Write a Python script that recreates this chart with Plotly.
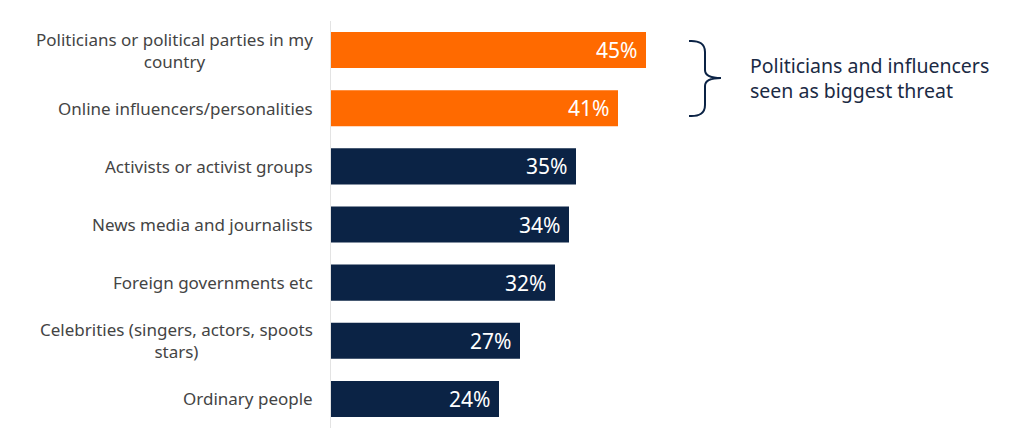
import plotly.graph_objects as go

categories = [
    "Politicians or political parties in my<br>country",
    "Online influencers/personalities",
    "Activists or activist groups",
    "News media and journalists",
    "Foreign governments etc",
    "Celebrities (singers, actors, spoots<br>stars)",
    "Ordinary people",
]
values = [45, 41, 35, 34, 32, 27, 24]
highlight = [True, True, False, False, False, False, False]

ORANGE = "#FF6A00"
NAVY = "#0B2345"
FONT = "Noto Sans"

# page body has an 8px margin, so the figure is drawn 8px smaller/shifted
OFF = 8
W, H = 1024 - OFF, 438 - OFF
L, R, T, B = 331 - OFF, 0, 21 - OFF, 10

colors = [ORANGE if h else NAVY for h in highlight]

fig = go.Figure(go.Bar(
    x=values,
    y=categories,
    orientation="h",
    marker=dict(color=colors, line=dict(width=0)),
    text=[f"{v}%&nbsp;" for v in values],
    textposition="inside",
    insidetextanchor="end",
    textfont=dict(family=FONT, size=21, color="white"),
    cliponaxis=False,
    hoverinfo="skip",
))

# category labels as annotations so multi-line text is centred
for c in categories:
    fig.add_annotation(
        x=0, xref="paper", y=c, yref="y",
        text=c, showarrow=False, xanchor="right", align="center",
        xshift=-16, font=dict(family=FONT, size=17, color="#444444"),
    )


def px_(x):
    return (x - OFF - L) / (W - L - R)


def py_(y):
    return (H - B - (y - OFF)) / (H - T - B)


# brace grouping the first two bars (reference screen pixels)
pts = [
    ("M", 689, 41), ("Q", 705, 40, 705, 52), ("L", 705, 70),
    ("Q", 705, 78, 721, 78), ("Q", 705, 78, 705, 86), ("L", 705, 105),
    ("Q", 705, 117, 689, 116),
]
path = ""
for p in pts:
    cmd, coords = p[0], p[1:]
    seg = []
    for i in range(0, len(coords), 2):
        seg.append(f"{px_(coords[i]):.5f},{py_(coords[i + 1]):.5f}")
    path += cmd + " " + " ".join(seg) + " "

fig.add_shape(type="path", path=path.strip(), xref="paper", yref="paper",
              line=dict(color=NAVY, width=2))

fig.add_annotation(
    x=px_(748), xref="paper", y=py_(78), yref="paper",
    text="Politicians and influencers<br>seen as biggest threat",
    showarrow=False, xanchor="left", yanchor="middle", align="left",
    font=dict(family=FONT, size=19.5, color="#1B2A44"),
)

fig.update_layout(
    width=W, height=H,
    margin=dict(l=L, r=R, t=T, b=B),
    plot_bgcolor="white", paper_bgcolor="white",
    bargap=0.38,
    showlegend=False,
    font=dict(family=FONT),
)
fig.update_xaxes(range=[0, (W - L - R) / 7], visible=False, fixedrange=True)
fig.update_yaxes(
    autorange="reversed", showticklabels=False, ticks="",
    showline=True, linecolor="#E3E3E3", linewidth=1, showgrid=False,
    fixedrange=True,
)

fig.write_html("out.html")
